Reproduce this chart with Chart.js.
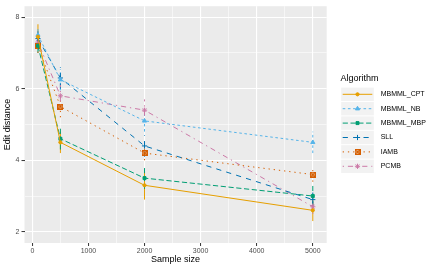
<!DOCTYPE html>
<html>
<head>
<meta charset="utf-8">
<script src="https://cdn.jsdelivr.net/npm/chart.js@4"></script>
<style>
  html, body { margin: 0; padding: 0; background: #ffffff; }
  canvas { display: block; }
</style>
</head>
<body>
<canvas id="editdist" width="437" height="270"></canvas>
<script>
const sampleSizes = [100, 500, 2000, 5000];

const algorithms = ['MBMML_CPT', 'MBMML_NB', 'MBMML_MBP', 'SLL', 'IAMB', 'PCMB'];

const cptValues = [7.45, 4.5, 3.3, 2.6];
const nbValues = [7.5, 6.25, 5.1, 4.5];
const mbpValues = [7.2, 4.6, 3.5, 3.0];
const sllValues = [7.4, 6.3, 4.4, 2.9];
const iambValues = [7.2, 5.5, 4.2, 3.6];
const pcmbValues = [7.3, 5.8, 5.4, 2.7];

// half-width of the error bars
const cptErr = [0.35, 0.3, 0.4, 0.3];
const nbErr = [0.2, 0.3, 0.3, 0.3];
const mbpErr = [0.2, 0.3, 0.3, 0.3];
const sllErr = [0.2, 0.3, 0.3, 0.2];
const iambErr = [0.2, 0.3, 0.2, 0.2];
const pcmbErr = [0.2, 0.3, 0.3, 0.2];

const xTicks = [0, 1000, 2000, 3000, 4000, 5000];
const xMinor = [500, 1500, 2500, 3500, 4500];
const yTicks = [2, 4, 6, 8];
const yMinor = [3, 5, 7];

const colors = ['#E69F00', '#56B4E9', '#009E73', '#0072B2', '#D55E00', '#CC79A7'];
const dashes = [[], [2.6, 2.6], [5.2, 2.6], [5.2, 5.2], [1.3, 3.9], [1.3, 3.9, 5.2, 3.9]];

// square with a cross (ggplot shape 7)
function squareCross(color) {
  const c = document.createElement('canvas');
  c.width = 6; c.height = 6;
  const g = c.getContext('2d');
  g.fillStyle = color;
  g.globalAlpha = 0.55;
  g.fillRect(0, 0, 6, 6);
  g.globalAlpha = 1;
  g.strokeStyle = color;
  g.lineWidth = 1;
  g.strokeRect(0.5, 0.5, 5, 5);
  g.beginPath();
  g.moveTo(0.5, 0.5); g.lineTo(5.5, 5.5);
  g.moveTo(5.5, 0.5); g.lineTo(0.5, 5.5);
  g.stroke();
  return c;
}

const pointStyles = ['circle', 'triangle', 'rect', 'cross', squareCross(colors[4]), 'star'];
const pointRadii = [1.6, 2.4, 2.1, 2.6, 3, 2.6];

const values = [cptValues, nbValues, mbpValues, sllValues, iambValues, pcmbValues];
const errors = [cptErr, nbErr, mbpErr, sllErr, iambErr, pcmbErr];

const panelBg = {
  id: 'panelBg',
  beforeDraw(chart) {
    const a = chart.chartArea;
    const ctx = chart.ctx;
    ctx.save();
    ctx.fillStyle = '#EBEBEB';
    ctx.fillRect(a.left, a.top, a.right - a.left, a.bottom - a.top);
    ctx.restore();
  }
};

const errorBars = {
  id: 'errorBars',
  beforeDatasetsDraw(chart) {
    const ctx = chart.ctx;
    const xs = chart.scales.x, ys = chart.scales.y;
    ctx.save();
    values.forEach(function (series, i) {
      ctx.strokeStyle = colors[i];
      ctx.lineWidth = 1;
      ctx.setLineDash(dashes[i]);
      series.forEach(function (v, j) {
        const px = xs.getPixelForValue(sampleSizes[j]);
        ctx.beginPath();
        ctx.moveTo(px, ys.getPixelForValue(v - errors[i][j]));
        ctx.lineTo(px, ys.getPixelForValue(v + errors[i][j]));
        ctx.stroke();
      });
    });
    ctx.restore();
  }
};

const keyLegend = {
  id: 'keyLegend',
  afterDraw(chart) {
    const ctx = chart.ctx;
    const x0 = 340.7, w = 33.6, h = 14.4, top = 87.1;
    ctx.save();
    ctx.fillStyle = '#000000';
    ctx.font = '9px "Liberation Sans", Arial, sans-serif';
    ctx.textBaseline = 'middle';
    ctx.fillText('Algorithm', 340.5, 78.3);
    algorithms.forEach(function (name, i) {
      const y = top + i * h;
      ctx.fillStyle = '#F2F2F2';
      ctx.fillRect(x0 + 0.5, y + 0.5, w - 1, h - 1);
      const cy = y + h / 2;
      ctx.strokeStyle = colors[i];
      ctx.lineWidth = 1;
      ctx.setLineDash(dashes[i]);
      ctx.beginPath();
      ctx.moveTo(x0 + 2, cy);
      ctx.lineTo(x0 + w - 2, cy);
      ctx.stroke();
      ctx.setLineDash([]);
      ctx.fillStyle = colors[i];
      Chart.helpers.drawPoint(ctx, {
        pointStyle: pointStyles[i],
        radius: pointRadii[i],
        borderWidth: 1,
        rotation: 0
      }, x0 + w / 2, cy);
      ctx.fillStyle = '#000000';
      ctx.font = '7px "Liberation Sans", Arial, sans-serif';
      ctx.fillText(name, 380.7, cy);
    });
    ctx.restore();
  }
};

function isMajor(list, v) {
  return list.indexOf(v) !== -1;
}

new Chart(
  document.getElementById('editdist'),
  {
    type: 'line',
    data: {
      datasets: algorithms.map(function (name, i) {
        return {
          label: name,
          data: values[i].map(function (v, j) {
            return { x: sampleSizes[j], y: v };
          }),
          borderColor: colors[i],
          backgroundColor: colors[i],
          borderWidth: 1,
          borderDash: dashes[i],
          tension: 0,
          pointStyle: pointStyles[i],
          pointRadius: pointRadii[i],
          pointBorderWidth: 1,
          pointBorderColor: colors[i],
          pointBackgroundColor: colors[i]
        };
      })
    },
    options: {
      responsive: false,
      animation: false,
      devicePixelRatio: 1,
      layout: { padding: { left: 0, right: 110.3, top: 4, bottom: 0 } },
      plugins: {
        legend: { display: false },
        tooltip: { enabled: false }
      },
      scales: {
        x: {
          type: 'linear',
          min: -140,
          max: 5248,
          afterFit: function (s) { s.height = 27; },
          afterBuildTicks: function (s) {
            s.ticks = xTicks.concat(xMinor).sort(function (a, b) { return a - b; })
              .map(function (v) { return { value: v }; });
          },
          border: { display: false },
          grid: {
            color: '#FFFFFF',
            lineWidth: function (c) { return isMajor(xTicks, c.tick.value) ? 1.1 : 0.55; },
            tickColor: function (c) { return isMajor(xTicks, c.tick.value) ? '#333333' : 'rgba(0,0,0,0)'; },
            tickLength: 3,
            tickWidth: 1
          },
          ticks: {
            autoSkip: false,
            maxRotation: 0,
            padding: 1,
            color: '#4D4D4D',
            font: { family: '"Liberation Sans", Arial, sans-serif', size: 7 },
            callback: function (v) { return isMajor(xTicks, v) ? String(v) : ''; }
          },
          title: {
            display: true,
            text: 'Sample size',
            color: '#000000',
            font: { family: '"Liberation Sans", Arial, sans-serif', size: 9 },
            padding: { top: 0, bottom: 4.6 }
          }
        },
        y: {
          min: 1.687,
          max: 8.305,
          afterFit: function (s) { s.width = 24.5; },
          afterBuildTicks: function (s) {
            s.ticks = yTicks.concat(yMinor).sort(function (a, b) { return a - b; })
              .map(function (v) { return { value: v }; });
          },
          border: { display: false },
          grid: {
            color: '#FFFFFF',
            lineWidth: function (c) { return isMajor(yTicks, c.tick.value) ? 1.1 : 0.55; },
            tickColor: function (c) { return isMajor(yTicks, c.tick.value) ? '#333333' : 'rgba(0,0,0,0)'; },
            tickLength: 3,
            tickWidth: 1
          },
          ticks: {
            autoSkip: false,
            padding: 2,
            color: '#4D4D4D',
            font: { family: '"Liberation Sans", Arial, sans-serif', size: 7 },
            callback: function (v) { return isMajor(yTicks, v) ? String(v) : ''; }
          },
          title: {
            display: true,
            text: 'Edit distance',
            color: '#000000',
            font: { family: '"Liberation Sans", Arial, sans-serif', size: 9 },
            padding: { top: 2.6, bottom: 0 }
          }
        }
      }
    },
    plugins: [panelBg, errorBars, keyLegend]
  }
);
</script>
</body>
</html>
